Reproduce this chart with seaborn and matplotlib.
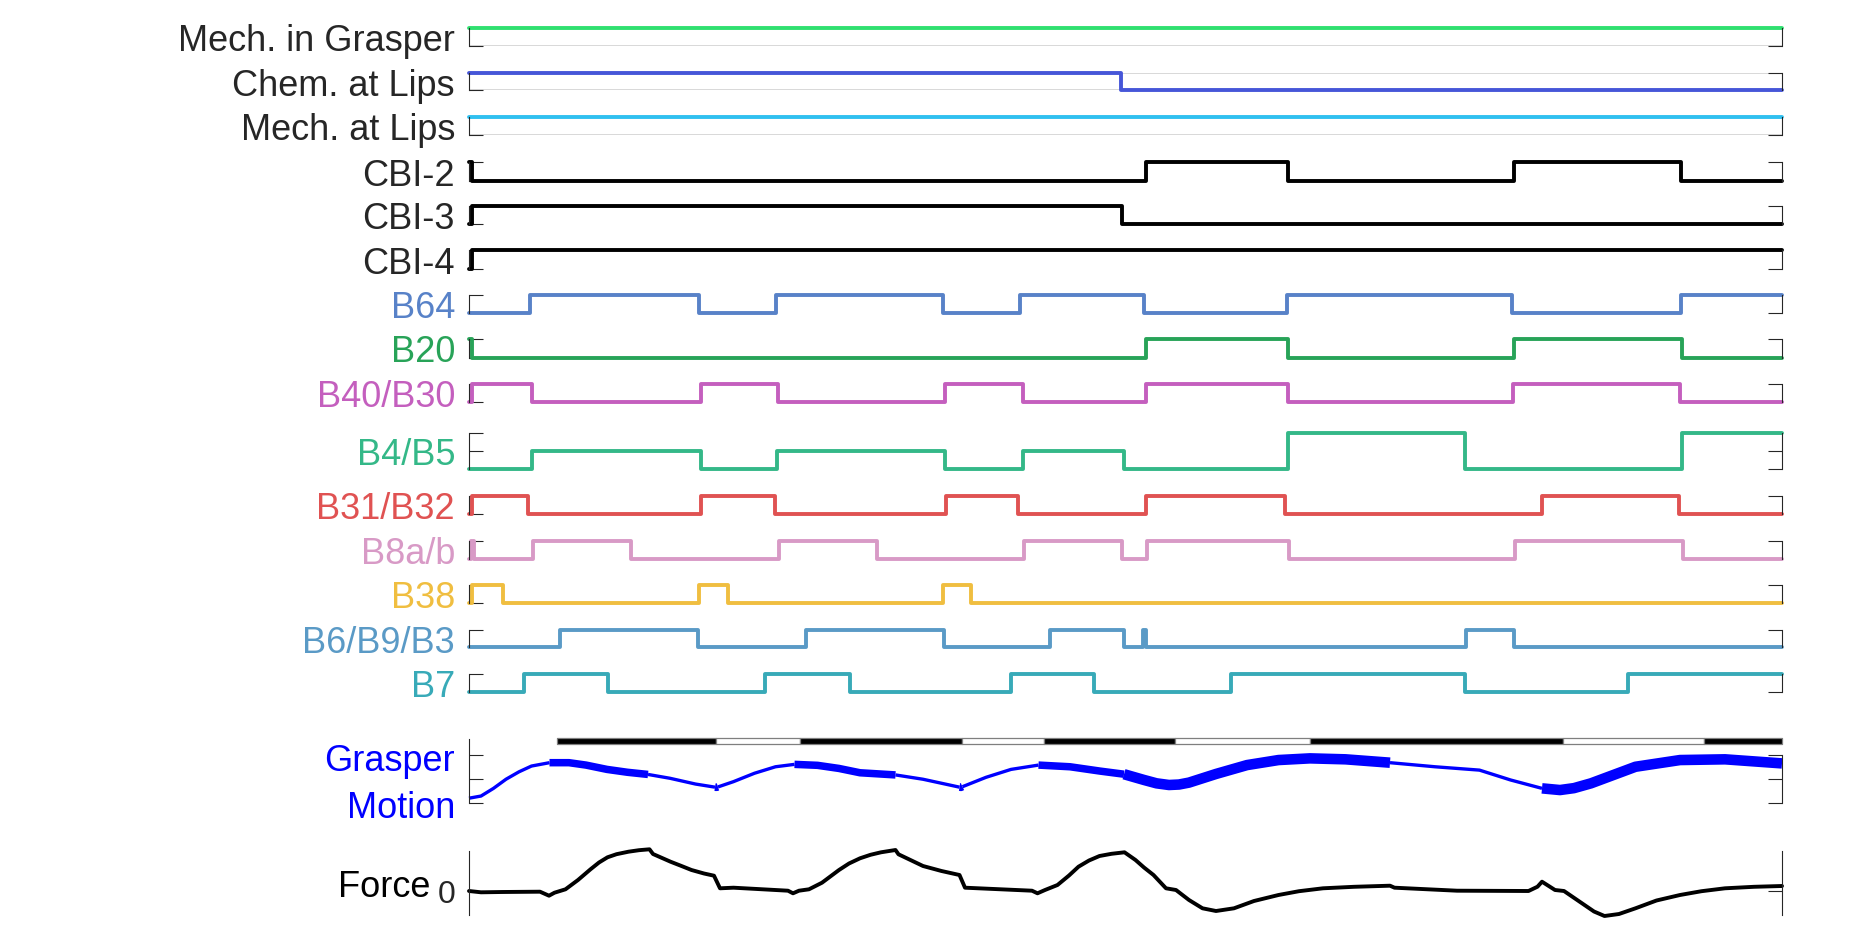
import numpy as np
import matplotlib
matplotlib.use('Agg')
import matplotlib.pyplot as plt
import seaborn as sns

# ---- data (time in s) ----
t_end = 26.26

labels = ['Mech. in Grasper', 'Chem. at Lips', 'Mech. at Lips', 'CBI-2', 'CBI-3', 'CBI-4',
          'B64', 'B20', 'B40/B30', 'B4/B5', 'B31/B32', 'B8a/b', 'B38', 'B6/B9/B3', 'B7']
trace_colors = ['#30e070', '#4656d8', '#30c0f0', 'black', 'black', 'black',
                '#5882c8', '#28a358', '#c45fbe', '#34b888', '#e05252', '#d89ac6',
                '#f0be40', '#5a9ac6', '#38aab8']
label_colors = ['#262626'] * 6 + trace_colors[6:]

mech_grasper_t = [0.0]
mech_grasper_v = [1]
chem_lips_t = [0.0, 13.04]
chem_lips_v = [1, 0]
mech_lips_t = [0.0]
mech_lips_v = [1]
cbi2_t = [0.0, 0.05, 13.53, 16.38, 20.89, 24.24]
cbi2_v = [1, 0, 1, 0, 1, 0]
cbi3_t = [0.0, 0.05, 13.06]
cbi3_v = [0, 1, 0]
cbi4_t = [0.0, 0.05]
cbi4_v = [0, 1]
b64_t = [0.0, 1.22, 4.60, 6.14, 9.48, 11.02, 13.50, 16.35, 20.86, 24.23]
b64_v = [0, 1, 0, 1, 0, 1, 0, 1, 0, 1]
b20_t = [0.0, 0.06, 13.53, 16.38, 20.90, 24.25]
b20_v = [1, 0, 1, 0, 1, 0]
b40_t = [0.0, 0.05, 1.26, 4.63, 6.18, 9.52, 11.07, 13.53, 16.38, 20.88, 24.22]
b40_v = [0, 1, 0, 1, 0, 1, 0, 1, 0, 1, 0]
b4_t = [0.0, 1.26, 4.63, 6.16, 9.52, 11.07, 13.10, 16.38, 19.92, 24.26]
b4_v = [0, 1, 0, 1, 0, 1, 0, 2, 0, 2]
b31_t = [0.0, 0.05, 1.18, 4.63, 6.12, 9.53, 10.98, 13.53, 16.32, 21.46, 24.19]
b31_v = [0, 1, 0, 1, 0, 1, 0, 1, 0, 1, 0]
b8_t = [0.0, 0.03, 0.10, 1.28, 3.24, 6.20, 8.15, 11.10, 13.05, 13.55, 16.40, 20.92, 24.27]
b8_v = [0, 1, 0, 1, 0, 1, 0, 1, 0, 1, 0, 1, 0]
b38_t = [0.0, 0.05, 0.67, 4.60, 5.17, 9.48, 10.03]
b38_v = [0, 1, 0, 1, 0, 1, 0]
b6_t = [0.0, 1.82, 4.57, 6.73, 9.49, 11.62, 13.10, 13.47, 13.53, 19.94, 20.90]
b6_v = [0, 1, 0, 1, 0, 1, 0, 1, 0, 1, 0]
b7_t = [0.0, 1.09, 2.77, 5.92, 7.62, 10.83, 12.50, 15.24, 19.92, 23.18]
b7_v = [0, 1, 0, 1, 0, 1, 0, 1, 0, 1]

channels = [(mech_grasper_t, mech_grasper_v), (chem_lips_t, chem_lips_v), (mech_lips_t, mech_lips_v),
            (cbi2_t, cbi2_v), (cbi3_t, cbi3_v), (cbi4_t, cbi4_v), (b64_t, b64_v), (b20_t, b20_v),
            (b40_t, b40_v), (b4_t, b4_v), (b31_t, b31_v), (b8_t, b8_v), (b38_t, b38_v),
            (b6_t, b6_v), (b7_t, b7_v)]

# grasper motion
motion_t = [0.0, 0.24, 0.49, 0.74, 1.0, 1.25, 1.61, 2.0, 2.34, 2.76, 3.17, 3.58, 4.02, 4.53,
            4.92, 4.95, 4.98, 5.29, 5.71, 6.13, 6.51, 6.97, 7.40, 7.82, 8.53, 9.08, 9.50,
            9.81, 9.84, 9.87, 10.34, 10.84, 11.39, 12.02, 12.62, 13.10, 13.50, 13.75, 14.00,
            14.20, 14.40, 14.94, 15.56, 16.19, 16.82, 17.53, 18.42, 19.32, 20.21, 20.83,
            21.46, 21.82, 22.10, 22.44, 23.33, 24.22, 25.12, 26.26]
motion_v = [0.20, 0.29, 0.61, 0.99, 1.30, 1.54, 1.68, 1.68, 1.58, 1.40, 1.28, 1.19, 1.03, 0.79,
            0.66, 0.65, 0.67, 0.89, 1.24, 1.51, 1.61, 1.57, 1.44, 1.26, 1.17, 0.99, 0.80,
            0.66, 0.65, 0.68, 1.07, 1.40, 1.58, 1.51, 1.33, 1.20, 0.96, 0.82, 0.75,
            0.77, 0.85, 1.21, 1.58, 1.79, 1.86, 1.82, 1.68, 1.51, 1.37, 0.96,
            0.61, 0.54, 0.62, 0.82, 1.51, 1.79, 1.82, 1.65]
# grasper state per segment: 0 open, 1 closing, 2 closed
seg_start = [0.0, 1.61, 3.58, 4.92, 4.98, 6.51, 8.53, 9.81, 9.87, 11.39, 13.10, 18.42, 21.46]
seg_end = [1.61, 3.58, 4.92, 4.98, 6.51, 8.53, 9.81, 9.87, 11.39, 13.10, 18.42, 21.46, 26.26]
seg_state = [0, 1, 0, 1, 0, 1, 0, 1, 0, 1, 2, 0, 2]

# black = closed, white = open
bar_start = [1.76, 4.93, 6.61, 9.85, 11.50, 14.12, 16.82, 21.88, 24.69]
bar_end = [4.93, 6.61, 9.85, 11.50, 14.12, 16.82, 21.88, 24.69, 26.26]
bar_closed = [1, 0, 1, 0, 1, 0, 1, 0, 1]

force_t = [0.00, 0.24, 0.66, 1.42, 1.60, 1.71, 1.93, 2.18, 2.43, 2.60, 2.77, 2.95, 3.19, 3.40,
           3.61, 3.68, 4.03, 4.25, 4.45, 4.70, 4.90, 5.02, 5.29, 6.38, 6.48, 6.60, 6.80, 7.06,
           7.40, 7.60, 7.82, 8.03, 8.24, 8.53, 8.59, 8.85, 9.08, 9.45, 9.81, 9.92, 11.26, 11.37,
           11.52, 11.77, 12.00, 12.19, 12.40, 12.61, 12.85, 13.11, 13.33, 13.50, 13.69, 13.94,
           14.14, 14.40, 14.67, 14.94, 15.30, 15.70, 16.19, 16.60, 17.08, 17.70, 18.42, 18.51,
           19.76, 21.19, 21.37, 21.46, 21.72, 21.90, 22.26, 22.50, 22.71, 23.00, 23.33, 23.75,
           24.22, 24.65, 25.12, 25.70, 26.26]
force_v = [0.00, -0.13, -0.10, -0.07, -0.47, -0.17, 0.17, 1.10, 2.17, 2.85, 3.37, 3.68, 3.93, 4.08,
           4.17, 3.70, 2.93, 2.50, 2.10, 1.75, 1.53, 0.27, 0.33, 0.03, -0.23, 0.03, 0.17, 0.83,
           2.10, 2.75, 3.27, 3.62, 3.87, 4.10, 3.67, 3.05, 2.50, 2.00, 1.60, 0.33, 0.03, -0.23,
           0.10, 0.60, 1.55, 2.43, 3.05, 3.50, 3.72, 3.87, 3.10, 2.35, 1.60, 0.27,
           0.10, -0.90, -1.73, -2.00, -1.73, -1.00, -0.40, -0.02, 0.27, 0.42, 0.53, 0.33,
           0.03, 0.00, 0.43, 0.93, 0.10, 0.00, -1.23, -2.05, -2.50, -2.30, -1.73, -0.95,
           -0.40, -0.02, 0.27, 0.42, 0.50]

# ---- layout (pixels) ----
W, H = 1875, 938
X0, X1 = 469, 1782
LABEL_X = 455
AX_COL = '#262626'
tops = [28, 73, 117, 162, 206, 250, 295, 339, 384, 433, 496, 541, 585, 630, 674]
bottoms = [46, 90, 135, 181, 224, 269, 313, 358, 402, 469, 514, 559, 603, 647, 692]
state_lw = {0: 2.4, 1: 5.4, 2: 7.6}

sns.set_theme(style='white')
plt.rcParams['font.family'] = ['Liberation Sans', 'DejaVu Sans']

fig = plt.figure(figsize=(W / 100, H / 100), dpi=100)


def add_ax(top, bottom):
    return fig.add_axes([X0 / W, 1 - bottom / H, (X1 - X0) / W, (bottom - top) / H])


def style_ax(ax, ticks):
    ax.set_xlim(0, t_end)
    ax.set_xticks([])
    ax.set_yticks(ticks)
    ax.tick_params(axis='y', direction='in', length=10, width=0.8, color=AX_COL,
                   left=True, right=True, labelleft=False, labelright=False)
    for s in ['top', 'bottom']:
        ax.spines[s].set_visible(False)
    for s in ['left', 'right']:
        ax.spines[s].set_color(AX_COL)
        ax.spines[s].set_linewidth(0.8)
    ax.patch.set_alpha(0)
    ax.set_xlabel('')
    ax.set_ylabel('')


for i, (name, (tt, vv)) in enumerate(zip(labels, channels)):
    ax = add_ax(tops[i], bottoms[i])
    top_level = max(2, max(vv)) if name == 'B4/B5' else 1
    x = list(tt) + [t_end]
    y = list(vv) + [vv[-1]]
    if i < 3:
        ax.axhline(0, color='#d6d6d6', lw=1.3, zorder=0)
        ax.axhline(1, color='#d6d6d6', lw=1.3, zorder=0)
    sns.lineplot(x=x, y=y, ax=ax, color=trace_colors[i], linewidth=2.8, drawstyle='steps-post',
                 estimator=None, sort=False, legend=False, clip_on=False)
    ax.set_ylim(0, top_level)
    style_ax(ax, list(range(top_level + 1)))
    cy = (tops[i] + bottoms[i]) / 2
    fig.text(LABEL_X / W, 1 - (cy + 14) / H, name, ha='right', va='baseline',
             fontsize=26, color=label_colors[i])

# grasper motion
axg = add_ax(739, 803)
mt = np.array(motion_t)
mv = np.array(motion_v)
for a, b, s in zip(seg_start, seg_end, seg_state):
    m = (mt >= a - 1e-9) & (mt <= b + 1e-9)
    sns.lineplot(x=mt[m], y=mv[m], ax=axg, color='#0000ff', linewidth=state_lw[s],
                 estimator=None, sort=False, legend=False, clip_on=False,
                 solid_capstyle='butt', solid_joinstyle='round')
axg.broken_barh([(a, b - a) for a, b in zip(bar_start, bar_end)], (2.46, 0.23),
                facecolors=['black' if c else 'white' for c in bar_closed],
                edgecolor='#7f7f7f', linewidth=0.9, clip_on=False)
axg.set_ylim(0, 2.667)
style_ax(axg, [0, 1, 2])
axg.spines['right'].set_bounds(0, 2)
fig.text(LABEL_X / W, 1 - 771 / H, 'Grasper', ha='right', va='baseline', fontsize=26, color='#0000ff')
fig.text(LABEL_X / W, 1 - 818 / H, 'Motion', ha='right', va='baseline', fontsize=26, color='#0000ff')

# force
axf = add_ax(851, 915)
sns.lineplot(x=force_t, y=force_v, ax=axf, color='black', linewidth=2.8,
             estimator=None, sort=False, legend=False, clip_on=False,
             solid_joinstyle='round')
axf.set_ylim(-2.4, 4.0)
style_ax(axf, [0])
axf.set_yticklabels(['0'])
axf.tick_params(axis='y', labelleft=True, labelsize=23, pad=10, labelcolor=AX_COL)
fig.text(430 / W, 1 - 897 / H, 'Force', ha='right', va='baseline', fontsize=26, color='black')

fig.savefig('out.png', dpi=100)
